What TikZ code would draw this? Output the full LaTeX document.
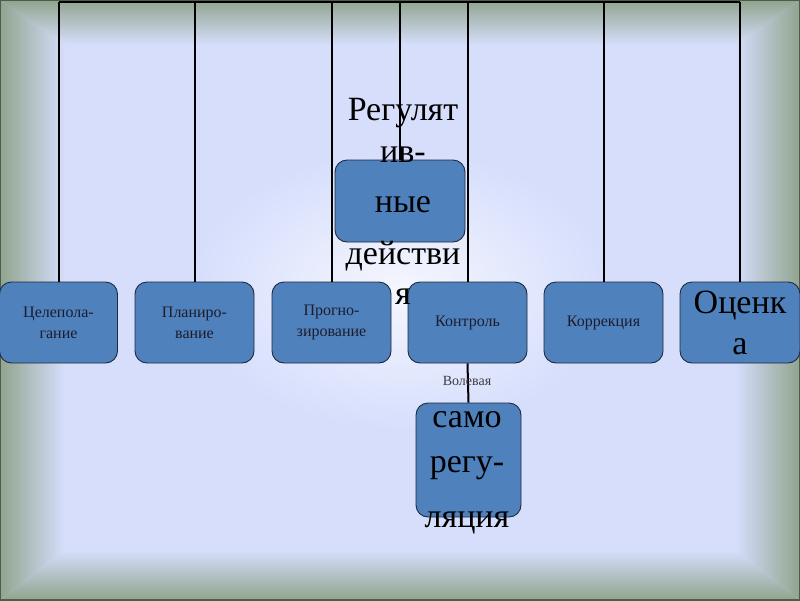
\documentclass[tikz,border=0pt]{standalone}
\usepackage{fontspec}
\setmainfont{Liberation Serif}
\definecolor{bggreen}{RGB}{144,164,142}
\definecolor{bgmid}{RGB}{180,196,210}
\definecolor{bglav}{RGB}{214,222,252}
\definecolor{bgedge}{RGB}{78,92,78}
\definecolor{boxfill}{RGB}{79,129,189}
\definecolor{boxline}{RGB}{32,42,62}
\definecolor{smalltext}{RGB}{28,28,44}
\definecolor{voltext}{RGB}{60,60,66}
\begin{document}
\begin{tikzpicture}[x=1pt,y=-1pt,
  block/.style={draw=boxline, line width=0.9pt, fill=boxfill, rounded corners=12pt, inner sep=0pt},
  link/.style={line width=2pt, draw=black},
  small/.style={font=\fontsize{16}{21}\selectfont, text=smalltext, align=center},
  big/.style={font=\fontsize{34}{46}\selectfont, text=black, align=center, inner sep=0pt},
]
\useasboundingbox (0,0) rectangle (800,600);
% background
\fill[bglav] (0,0) rectangle (800,600);
\shade[inner color=white!75!bglav, outer color=bglav] (400,290) ellipse (210 and 140);
\shade[left color=bggreen, middle color=bgmid, right color=bglav] (0,0) -- (65,45) -- (65,550) -- (0,600) -- cycle;
\shade[left color=bglav, middle color=bgmid, right color=bggreen] (800,0) -- (735,45) -- (735,550) -- (800,600) -- cycle;
\shade[top color=bggreen, middle color=bgmid, bottom color=bglav] (0,0) -- (800,0) -- (735,45) -- (65,45) -- cycle;
\shade[top color=bglav, middle color=bgmid, bottom color=bggreen] (0,600) -- (65,550) -- (735,550) -- (800,600) -- cycle;
\draw[bgedge, line width=2pt] (0,0) rectangle (800,600);

% boxes
\node[block, small, minimum width=118pt, minimum height=81pt] (cel) at (58.5,322.5) {Целепола-\\гание};
\node[block, small, minimum width=119pt, minimum height=81pt] (plan) at (194.5,322.5) {Планиро-\\вание};
\node[block, small, minimum width=119pt, minimum height=81pt] (prog) at (331.5,322.5) {Прогно-\\зирование};
\node[block, small, minimum width=119pt, minimum height=81pt] (kon) at (467.5,322.5) {Контроль};
\node[block, small, minimum width=119pt, minimum height=81pt] (korr) at (603.5,322.5) {Коррекция};
\node[block, font=\fontsize{34}{41}\selectfont, align=center, minimum width=120pt, minimum height=81pt] (ots) at (740,322.5) {Оценк\\а};
\node[block, minimum width=130pt, minimum height=82pt] (reg) at (400,201) {};
\node[block, minimum width=105pt, minimum height=114pt] (samo) at (468.5,460) {};

% connectors
\coordinate (topl) at (58.5,1.5);
\coordinate (topr) at (740,1.5);
\draw[link] (topl) -- (topr);
\foreach \n in {cel,plan,prog,reg,kon,korr,ots}{
  \draw[link] (\n.north) -- (\n.north |- topl);
}
\draw[link] (kon.south) -- (samo.north);

% texts
\node[big, anchor=base] (regtext) at (403,304) {Регулят\\[-4pt]ив-\\[4pt]ные\\[6pt]действи\\[-6pt]я};
\node[big, anchor=base] (samotext) at (467,527) {само\\[-1pt]регу-\\[9pt]ляция};
\node[font=\fontsize{14}{16}\selectfont, text=voltext, anchor=base, inner sep=0pt] (vol) at (467,385) {Волевая};
\end{tikzpicture}
\end{document}
